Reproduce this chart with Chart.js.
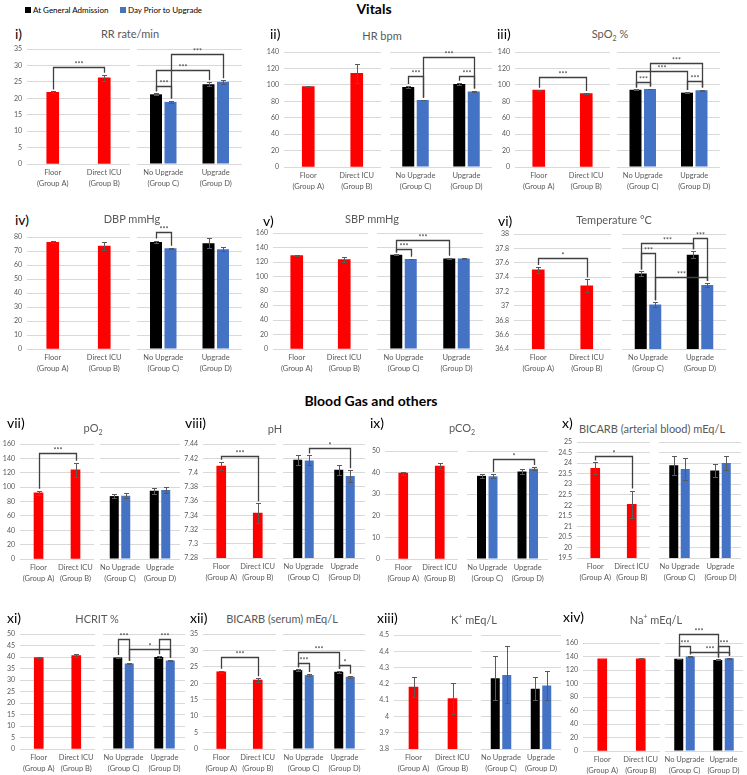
<!DOCTYPE html>
<html><head><meta charset="utf-8">
<script src="https://cdn.jsdelivr.net/npm/chart.js@4.4.1/dist/chart.umd.min.js"></script>
<style>
body{margin:0;width:747px;height:775px;background:#fff;position:relative;overflow:hidden;font-family:Lato,"Liberation Sans",sans-serif;}
.t{position:absolute;white-space:nowrap;transform:translate(-50%,-50%);color:#595959;font-size:11px;line-height:1;}
.t sub,.t sup{font-size:7px;}
.r{position:absolute;white-space:nowrap;transform:translateY(-50%);font-size:14px;color:#000;line-height:1;}
.h{position:absolute;white-space:nowrap;transform:translate(-50%,-50%);font-weight:bold;font-size:14px;color:#000;line-height:1;}
.lg{position:absolute;font-size:8px;color:#000;white-space:nowrap;transform:translateY(-50%);line-height:1;}
.sq{position:absolute;width:6px;height:6px;}
canvas{position:absolute;}
</style></head><body>
<script>
// ---------- DATA ----------
const leftCategories = [["Floor","(Group A)"],["Direct ICU","(Group B)"]];
const rightCategories = [["No Upgrade","(Group C)"],["Upgrade","(Group D)"]];
const seriesNames = ["At General Admission","Day Prior to Upgrade"];
const sectionTitles = ["Vitals","Blood Gas and others"];
const panelLabels = ["i)","ii)","iii)","iv)","v)","vi)","vii)","viii)","ix)","x)","xi)","xii)","xiii)","xiv)"];
const panelTitles = ["RR rate/min","HR bpm","SpO<sub>2</sub> %","DBP mmHg","SBP mmHg","Temperature °C","pO<sub>2</sub>","pH","pCO<sub>2</sub>","BICARB (arterial blood) mEq/L","HCRIT %","BICARB (serum) mEq/L","K<sup>+</sup> mEq/L","Na<sup>+</sup> mEq/L"];
// [min, max, step]
const yAxisRanges = [[0,35,5],[0,140,20],[0,140,20],[0,80,10],[0,160,20],[36.4,38,0.2],[0,160,20],[7.28,7.44,0.02],[0,50,10],[19.5,25,0.5],[0,50,5],[0,35,5],[3.8,4.5,0.1],[0,160,20]];
// Floor (Group A), Direct ICU (Group B)
const groupAB    = [[21.8,26.2],[98,114],[93.5,89.5],[76.2,73.6],[129,123.5],[37.5,37.28],[92,124],[7.409,7.343],[39.8,43],[23.75,22.05],[39.8,40.6],[23.5,21],[4.18,4.11],[136.5,136.5]];
const groupABErr = [[0.3,1.0],[1,12],[0.5,0.7],[0.7,3],[0.8,3],[0.04,0.09],[3,10],[0.006,0.014],[0.7,1.5],[0.28,0.65],[0.3,0.8],[0.3,0.5],[0.06,0.095],[0.5,0.7]];
// No Upgrade (Group C), Upgrade (Group D)
const atAdmission    = [[21.2,24.3],[97.5,101],[94,90.5],[76.5,75.5],[130,125],[37.45,37.71],[87.5,95],[7.418,7.404],[38.5,40.5],[23.9,23.65],[39.8,40],[24,23.5],[4.235,4.17],[136.5,135]];
const atAdmissionErr = [[0.3,0.6],[1,1.5],[0.5,0.8],[1,3.5],[0.5,1],[0.03,0.05],[3,4],[0.007,0.007],[1,1],[0.45,0.33],[0.2,0.3],[0.3,0.3],[0.135,0.07],[0.5,0.7]];
const dayPrior    = [[18.9,25.0],[81.5,92],[95,93.5],[72,71.2],[124,125],[37.02,37.29],[88,96],[7.417,7.395],[38.3,41.8],[23.72,24.0],[37.2,38.5],[22.5,22],[4.255,4.19],[140,137.5]];
const dayPriorErr = [[0.4,0.5],[0.5,1],[0.5,0.7],[0.3,1.5],[0.5,1],[0.03,0.03],[3.5,4],[0.007,0.008],[1,0.8],[0.5,0.32],[0.2,0.3],[0.3,0.3],[0.175,0.09],[0.5,0.7]];
// significance brackets: [datasetA, indexA, datasetB, indexB, level, label]
const leftBrackets = [[[0,0,0,1,29.5,"***"]],[],[[0,0,0,1,109,"***"]],[],[],[[0,0,0,1,37.67,"*"]],[[0,0,0,1,147,"***"]],[[0,0,0,1,7.4235,"***"]],[],[[0,0,0,1,24.35,"*"]],[],[[0,0,0,1,28,"***"]],[],[]];
const rightBrackets = [
 [[0,0,1,0,23.6,"***"],[0,0,0,1,28.5,"***"],[1,0,1,1,33.5,"***"]],
 [[0,0,1,0,111,"***"],[1,0,1,1,133.5,"***"],[0,1,1,1,111,"***"]],
 [[0,0,1,0,103,"***"],[0,0,0,1,117,"***"],[1,0,1,1,127,"***"],[0,1,1,1,105,"***"]],
 [[0,0,1,0,83.6,"***"]],
 [[0,0,1,0,138,"***"],[0,0,0,1,150,"***"]],
 [[0,0,1,0,37.74,"***"],[0,0,0,1,37.87,"***"],[0,1,1,1,37.94,"***"],[1,0,1,1,37.4,"***"]],
 [],
 [[1,0,1,1,7.435,"*"]],
 [[1,0,1,1,46.3,"*"]],
 [],
 [[0,0,1,0,47.8,"***"],[0,1,1,1,47.8,"***"],[1,0,1,1,43.5,"*"]],
 [[0,0,1,0,26.2,"***"],[0,0,0,1,29.5,"***"],[0,1,1,1,25.6,"*"]],
 [],
 [[0,0,0,1,173,"***"],[0,0,1,0,155,"***"],[1,0,1,1,147,"***"],[0,1,1,1,155,"***"]]
];

// ---------- LAYOUT (positions only) ----------
const F = 'Lato, "Liberation Sans", sans-serif';
Chart.defaults.font.family = F;
const YW=30, SP=14, PADT=30, XH=36;
// L0,L1,R0,R1,top,bottom, titleX,titleY, labelX,labelY, barW,pitch
const geo = [
 [27,130,137,242,49,164,130,33,15,34,12,14.5],
 [284,381,390,492,52,167,382,35,270,34,12,14.5],
 [515,610,617,720,52,167,610,35,497,34,12,14.5],
 [27,130,137,242,237,349,132,218,15,220,12,14.5],
 [273,368,377,483,233,349,372,218,263,221,12,14.5],
 [514,611,622,726,234,349,614,219,498,221,12,14.5],
 [20,94,100,180,444,559,93,429,7,423,9,11.5],
 [203,276,283,365,444,558,275,428,185,423,9,11.5],
 [385,458,467,548,451,559,462,429,370,423,9,11.5],
 [577,650,659,741,442,558,652,428,562,423,9,11.5],
 [20,95,103,185,634,749,97,618,7,618,9,11.5],
 [203,276,283,365,634,749,282,618,190,618,9,11.5],
 [394,472,481,561,635,749,474,619,377,618,9,11.5],
 [583,660,665,743,643,751,656,619,563,617,9,11.5]
];

function addText(cls, html, x, y){
  const d=document.createElement('div'); d.className=cls; d.innerHTML=html;
  d.style.left=x+'px'; d.style.top=y+'px'; document.body.appendChild(d);
}
// legend
(function(){
  const s1=document.createElement('div'); s1.className='sq'; s1.style.cssText='left:25px;top:7px;background:#000';document.body.appendChild(s1);
  addText('lg',seriesNames[0],33,10);
  const s2=document.createElement('div'); s2.className='sq'; s2.style.cssText='left:120px;top:7px;background:#4472c4';document.body.appendChild(s2);
  addText('lg',seriesNames[1],128,10);
})();
addText('h',sectionTitles[0],374,9);
addText('h',sectionTitles[1],371,401);

const errPlugin = {id:'errbars', afterDatasetsDraw(chart){
  const ctx=chart.ctx, ys=chart.scales.y;
  chart.data.datasets.forEach((ds,i)=>{
    const meta=chart.getDatasetMeta(i);
    meta.data.forEach((bar,j)=>{
      const v=ds.data[j], e=ds.errs[j];
      if(v==null||!e) return;
      const x=Math.round(bar.x)+0.5;
      const y1=Math.round(ys.getPixelForValue(v+e))+0.5, y2=Math.round(ys.getPixelForValue(v-e))+0.5;
      ctx.save(); ctx.strokeStyle='#5a5a5a'; ctx.lineWidth=1;
      ctx.beginPath();
      ctx.moveTo(x,y1); ctx.lineTo(x,y2);
      ctx.moveTo(x-2.5,y1); ctx.lineTo(x+2.5,y1);
      ctx.moveTo(x-2.5,y2); ctx.lineTo(x+2.5,y2);
      ctx.stroke(); ctx.restore();
    });
  });
}};
function bracketPlugin(list){
  return {id:'brackets', afterDatasetsDraw(chart){
    const ctx=chart.ctx, ys=chart.scales.y;
    list.forEach(b=>{
      const [da,ia,db,ib,lev,lab]=b;
      const ds=chart.data.datasets;
      const ba=chart.getDatasetMeta(da).data[ia], bb=chart.getDatasetMeta(db).data[ib];
      const xa=Math.round(ba.x)+0.5, xb=Math.round(bb.x)+0.5;
      const ta=ys.getPixelForValue(ds[da].data[ia]+ds[da].errs[ia])-2;
      const tb=ys.getPixelForValue(ds[db].data[ib]+ds[db].errs[ib])-2;
      const yl=Math.round(ys.getPixelForValue(lev))+0.5;
      ctx.save(); ctx.strokeStyle='#404040'; ctx.lineWidth=1.3;
      ctx.beginPath(); ctx.moveTo(xa,ta); ctx.lineTo(xa,yl); ctx.lineTo(xb,yl); ctx.lineTo(xb,tb); ctx.stroke();
      ctx.fillStyle='#404040'; ctx.font='7px '+F; ctx.textAlign='center'; ctx.textBaseline='bottom';
      ctx.fillText(lab,(xa+xb)/2,yl+1);
      ctx.restore();
    });
  }};
}
const fmt = v => String(Math.round(v*10000)/10000);

function makeChart(p, isLeft){
  const g=geo[p];
  const [L0,L1,R0,R1,top,bot]=g, bw=g[10], pitch=g[11];
  const x0=isLeft?L0:R0, x1=isLeft?L1:R1;
  const c=document.createElement('canvas');
  const w=(x1-x0)+(isLeft?YW:0)+2*SP, h=(bot-top)+PADT+XH;
  c.width=w; c.height=h;
  c.style.left=(x0-(isLeft?YW:0)-SP)+'px'; c.style.top=(top-PADT)+'px';
  c.style.width=w+'px'; c.style.height=h+'px';
  document.body.appendChild(c);
  const [mn,mx,st]=yAxisRanges[p];
  const cw=(x1-x0)/2;
  const datasets = isLeft ? [
    {data:groupAB[p], errs:groupABErr[p], backgroundColor:'#ff0000', barThickness:bw}
  ] : [
    {data:atAdmission[p], errs:atAdmissionErr[p], backgroundColor:'#000000', categoryPercentage:2*pitch/cw, barPercentage:bw/pitch},
    {data:dayPrior[p], errs:dayPriorErr[p], backgroundColor:'#4472c4', categoryPercentage:2*pitch/cw, barPercentage:bw/pitch}
  ];
  new Chart(c,{
    type:'bar',
    data:{labels:isLeft?leftCategories:rightCategories, datasets},
    options:{
      animation:false, responsive:false, devicePixelRatio:1,
      layout:{padding:{top:PADT,left:SP,right:SP,bottom:0}},
      plugins:{legend:{display:false},tooltip:{enabled:false}},
      scales:{
        x:{grid:{display:false,drawTicks:false},border:{display:false},
           ticks:{font:{size:7.5,family:F,lineHeight:1.35},color:'#595959',padding:4,maxRotation:0,autoSkip:false},
           afterFit(s){s.height=XH;}},
        y:{min:mn,max:mx,
           ticks:{stepSize:st,display:isLeft,autoSkip:false,font:{size:7,family:F},color:'#595959',padding:5,callback:fmt},
           grid:{color:'#d9d9d9',drawTicks:false,lineWidth:1},
           border:{display:false},
           afterFit(s){s.width=isLeft?YW:0;}}
      }
    },
    plugins:[errPlugin, bracketPlugin(isLeft?leftBrackets[p]:rightBrackets[p])]
  });
}

for(let p=0;p<14;p++){
  const g=geo[p];
  addText('t',panelTitles[p],g[6],g[7]);
  addText('r',panelLabels[p],g[8],g[9]);
  makeChart(p,true);
  makeChart(p,false);
}
</script>
</body></html>
